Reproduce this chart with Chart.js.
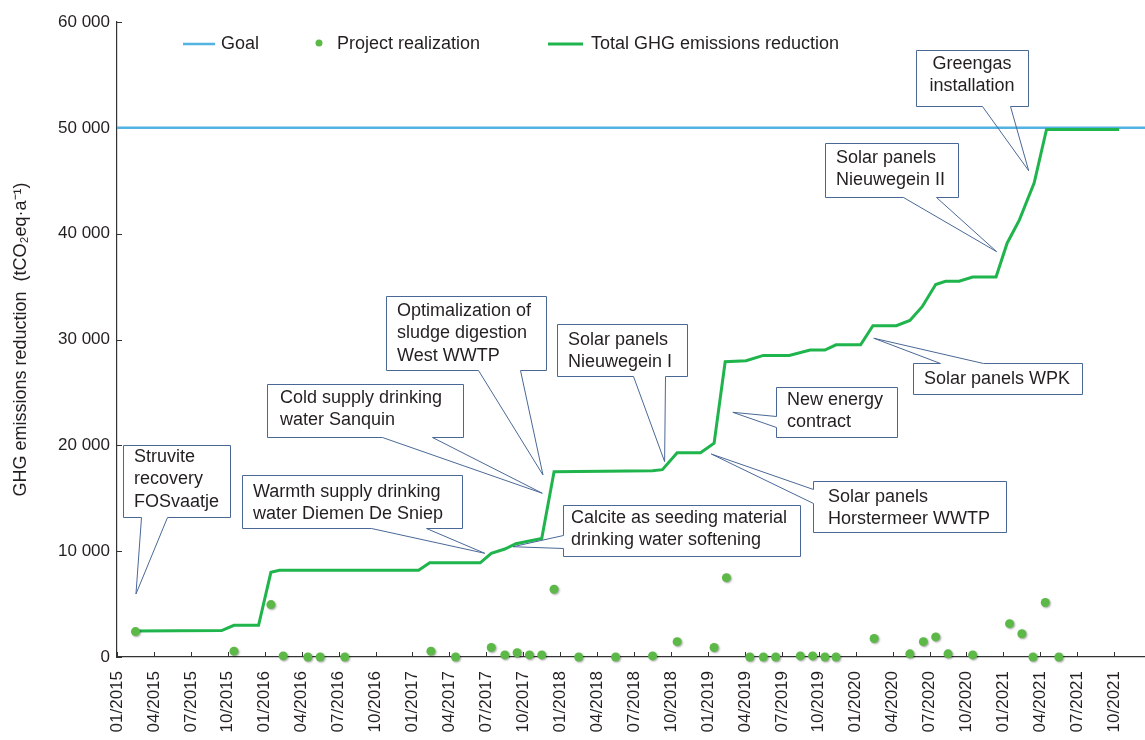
<!DOCTYPE html>
<html>
<head>
<meta charset="utf-8">
<script src="https://cdn.jsdelivr.net/npm/chart.js@4.4.0/dist/chart.umd.min.js"></script>
<style>
html,body{margin:0;padding:0;background:#fff;}
#c{display:block;}
</style>
</head>
<body>
<canvas id="c" width="1145" height="740"></canvas>
<script>
// ---- DATA (x = months since 01/2015) ----
const xTickLabels = ["01/2015","04/2015","07/2015","10/2015","01/2016","04/2016","07/2016","10/2016",
  "01/2017","04/2017","07/2017","10/2017","01/2018","04/2018","07/2018","10/2018",
  "01/2019","04/2019","07/2019","10/2019","01/2020","04/2020","07/2020","10/2020",
  "01/2021","04/2021","07/2021","10/2021"];
const yTickLabels = ["0","10 000","20 000","30 000","40 000","50 000","60 000"];
const goalValue = 50000;

const totalMonths = [1.5, 8.5, 9.5, 11.5, 12.5, 13.2, 24.5, 25.4, 29.5, 30.4, 31.5, 32.4, 34.5, 35.5, 43.5, 44.3,
  45.5, 47.4, 48.5, 49.4, 51.1, 52.5, 54.6, 56.3, 57.5, 58.4, 60.4, 61.4, 63.3, 64.4, 65.4, 66.5, 67.3, 68.4,
  69.5, 71.4, 72.3, 73.3, 74.5, 75.5, 81.4];
const totalValues = [2450, 2500, 3000, 3000, 8000, 8200, 8200, 8900, 8900, 9800, 10200, 10700, 11200, 17500, 17600, 17700,
  19300, 19300, 20200, 27900, 28000, 28500, 28500, 29000, 29000, 29500, 29500, 31300, 31300, 31800, 33100, 35200, 35500, 35500,
  35900, 35900, 39100, 41300, 44800, 49850, 49850];

const realizationMonths = [1.5, 9.5, 12.5, 13.5, 15.5, 16.5, 18.5, 25.5, 27.5, 30.4, 31.5, 32.5, 33.5, 34.5, 35.5,
  37.5, 40.5, 43.5, 45.5, 48.5, 49.5, 51.4, 52.5, 53.5, 55.5, 56.5, 57.5, 58.4, 61.5, 64.4, 65.5, 66.5, 67.5,
  69.5, 72.5, 73.5, 74.4, 75.4, 76.5];
const realizationValues = [2400, 550, 4950, 100, 0, 0, 0, 550, 0, 900, 200, 400, 200, 200, 6400,
  0, 0, 100, 1450, 900, 7500, 0, 0, 0, 100, 100, 0, 0, 1750, 300, 1450, 1900, 300,
  200, 3150, 2200, 0, 5150, 0];

const calloutTexts = [
  ["Struvite","recovery","FOSvaatje"],
  ["Warmth supply drinking","water Diemen De Sniep"],
  ["Cold supply drinking","water Sanquin"],
  ["Optimalization of","sludge digestion","West WWTP"],
  ["Solar panels","Nieuwegein I"],
  ["Calcite as seeding material","drinking water softening"],
  ["New energy","contract"],
  ["Solar panels","Horstermeer WWTP"],
  ["Solar panels WPK"],
  ["Solar panels","Nieuwegein II"],
  ["Greengas","installation"]
];
// tip of each callout, in data coordinates (month, value)
const calloutTipMonths = [1.54, 29.87, 34.55, 34.6, 44.48, 32.17, 50.02, 48.27, 61.47, 71.45, 74.05];
const calloutTipValues = [5950, 9800, 15470, 17200, 18460, 10420, 23120, 19180, 30120, 38300, 45950];

// ---- LAYOUT / STYLE ----
const FONT = "'Liberation Sans', Arial, Helvetica, sans-serif";
const TEXT = '#231f20';
const GOAL_C = '#52b2e2';
const TOTAL_C = '#1fb44c';
const DOT_C = '#5cb947';
const BOX_C = '#4a6896';
const X_MIN = 0, X_MAX = 83.5;

const calloutLayout = [
  {x:123,y:445,w:107,h:72, side:'bottom', a:141, b:167, tx:134, ty:457},
  {x:242,y:475,w:220,h:53, side:'bottom', a:371, b:426, tx:253, ty:492},
  {x:267,y:384,w:196,h:53, side:'bottom', a:382, b:432, tx:280, ty:398},
  {x:386,y:296,w:160,h:74, side:'bottom', a:478, b:520, tx:397, ty:311},
  {x:557,y:324,w:130,h:52, side:'bottom', a:633, b:665, tx:568, ty:340},
  {x:563,y:505,w:237,h:51, side:'left', a:535, b:548, tx:571, ty:518},
  {x:776,y:387,w:121,h:50, side:'left', a:416, b:427, tx:787, ty:400},
  {x:813,y:481,w:193,h:51, side:'left', a:489, b:503, tx:828, ty:497},
  {x:913,y:363,w:169,h:31, side:'top', a:940, b:983, tx:924, ty:379},
  {x:825,y:143,w:133,h:54, side:'bottom', a:903, b:936, tx:836, ty:158},
  {x:916,y:50,w:112,h:56, side:'bottom', a:982, b:1010, tx:972, ty:64, center:true}
];

const totalData = totalMonths.map((m,i)=>({x:m, y:totalValues[i]}));
const realizationData = realizationMonths.map((m,i)=>({x:m, y:realizationValues[i]}));
const goalData = [{x:X_MIN, y:goalValue},{x:X_MAX, y:goalValue}];

const innerTicks = {
  id:'innerTicks',
  beforeDatasetsDraw(chart){
    const {ctx, chartArea:a, scales:{x,y}} = chart;
    ctx.save(); ctx.strokeStyle='#333'; ctx.lineWidth=1;
    x.ticks.forEach(t=>{const px=Math.round(x.getPixelForValue(t.value))+0.5;
      ctx.beginPath(); ctx.moveTo(px,a.bottom); ctx.lineTo(px,a.bottom-5); ctx.stroke();});
    y.ticks.forEach(t=>{const py=Math.round(y.getPixelForValue(t.value))+0.5;
      ctx.beginPath(); ctx.moveTo(a.left,py); ctx.lineTo(a.left+5,py); ctx.stroke();});
    ctx.restore();
  }
};

const dotShadow = {
  id:'dotShadow',
  beforeDatasetDraw(chart, args){
    if (args.index !== 0) return;
    const ctx = chart.ctx; ctx.save();
    ctx.shadowColor='rgba(0,0,0,0.35)'; ctx.shadowBlur=2; ctx.shadowOffsetX=1; ctx.shadowOffsetY=1;
  },
  afterDatasetDraw(chart, args){
    if (args.index !== 0) return;
    chart.ctx.restore();
  }
};

const customLegend = {
  id:'customLegend',
  afterDraw(chart){
    const ctx = chart.ctx; ctx.save();
    ctx.font = '18px ' + FONT; ctx.fillStyle = TEXT; ctx.textBaseline='middle'; ctx.textAlign='left';
    const y = 44;
    ctx.strokeStyle = GOAL_C; ctx.lineWidth = 2.5;
    ctx.beginPath(); ctx.moveTo(183,y); ctx.lineTo(215,y); ctx.stroke();
    ctx.fillText(chart.data.datasets[2].label, 221, y);
    ctx.fillStyle = DOT_C; ctx.beginPath(); ctx.arc(319,y-1,3.5,0,Math.PI*2); ctx.fill();
    ctx.fillStyle = TEXT; ctx.fillText(chart.data.datasets[0].label, 337, y);
    ctx.strokeStyle = TOTAL_C; ctx.lineWidth = 3;
    ctx.beginPath(); ctx.moveTo(548,y); ctx.lineTo(583,y); ctx.stroke();
    ctx.fillText(chart.data.datasets[1].label, 591, y);
    ctx.restore();
  }
};

const callouts = {
  id:'callouts',
  afterDatasetsDraw(chart){
    const {ctx, scales:{x,y}} = chart;
    ctx.save();
    calloutLayout.forEach((L,i)=>{
      const tx = x.getPixelForValue(calloutTipMonths[i]);
      const ty = y.getPixelForValue(calloutTipValues[i]);
      const x0=L.x+0.5, y0=L.y+0.5, x1=L.x+L.w+0.5, y1=L.y+L.h+0.5;
      ctx.fillStyle='#fff'; ctx.fillRect(x0,y0,L.w,L.h);
      ctx.strokeStyle=BOX_C; ctx.lineWidth=1;
      ctx.beginPath();
      if (L.side==='bottom'){
        ctx.moveTo(x0,y0); ctx.lineTo(x1,y0); ctx.lineTo(x1,y1); ctx.lineTo(L.b+0.5,y1);
        ctx.lineTo(tx,ty); ctx.lineTo(L.a+0.5,y1); ctx.lineTo(x0,y1); ctx.closePath();
      } else if (L.side==='left'){
        ctx.moveTo(x0,y0); ctx.lineTo(x1,y0); ctx.lineTo(x1,y1); ctx.lineTo(x0,y1); ctx.lineTo(x0,L.b+0.5);
        ctx.lineTo(tx,ty); ctx.lineTo(x0,L.a+0.5); ctx.closePath();
      } else {
        ctx.moveTo(x0,y0); ctx.lineTo(L.a+0.5,y0); ctx.lineTo(tx,ty); ctx.lineTo(L.b+0.5,y0);
        ctx.lineTo(x1,y0); ctx.lineTo(x1,y1); ctx.lineTo(x0,y1); ctx.closePath();
      }
      ctx.stroke();
      ctx.fillStyle=TEXT; ctx.font='18px '+FONT; ctx.textBaseline='middle';
      ctx.textAlign = L.center ? 'center' : 'left';
      calloutTexts[i].forEach((t,j)=>ctx.fillText(t, L.tx, L.ty + j*22.5));
    });
    ctx.restore();
  }
};

new Chart(document.getElementById('c'), {
  data: {
    datasets: [
      { type:'scatter', label:'Project realization', data: realizationData, order:0,
        backgroundColor: DOT_C, borderWidth:0, pointRadius:4.5, pointHoverRadius:4.5, clip:false },
      { type:'line', label:'Total GHG emissions reduction', data: totalData, order:1,
        borderColor: TOTAL_C, borderWidth:3, pointRadius:0, tension:0, fill:false, clip:false },
      { type:'line', label:'Goal', data: goalData, order:2,
        borderColor: GOAL_C, borderWidth:2.5, pointRadius:0, fill:false }
    ]
  },
  options: {
    responsive:false, animation:false,
    layout:{ autoPadding:false, padding:{ top:22, right:0, left:0, bottom:0 } },
    plugins:{ legend:{display:false}, tooltip:{enabled:false} },
    scales:{
      x:{ type:'linear', min:X_MIN, max:X_MAX,
        grid:{display:false, drawTicks:false},
        border:{display:true, color:'#333', width:1.2},
        afterBuildTicks: s => { s.ticks = xTickLabels.map((l,i)=>({value:i*3})); },
        afterFit: s => { s.height = 83; s.paddingRight = 0; s.paddingLeft = 0; },
        ticks:{ autoSkip:false, minRotation:90, maxRotation:90, padding:14,
          color:TEXT, font:{family:FONT, size:17},
          callback:(v,i)=>xTickLabels[i] }
      },
      y:{ type:'linear', min:0, max:60000,
        grid:{display:false, drawTicks:false},
        border:{display:true, color:'#333', width:1.2},
        afterBuildTicks: s => { s.ticks = yTickLabels.map((l,i)=>({value:i*10000})); },
        afterFit: s => { s.width = 117; },
        ticks:{ padding:7, color:TEXT, font:{family:FONT, size:17},
          callback:(v,i)=>yTickLabels[i] },
        title:{ display:true, text:'GHG emissions reduction  (tCO\u2082eq\u00b7a\u207b\u00b9)',
          color:TEXT, font:{family:FONT, size:18}, padding:{top:10, bottom:0} }
      }
    }
  },
  plugins:[innerTicks, dotShadow, callouts, customLegend]
});
</script>
</body>
</html>
